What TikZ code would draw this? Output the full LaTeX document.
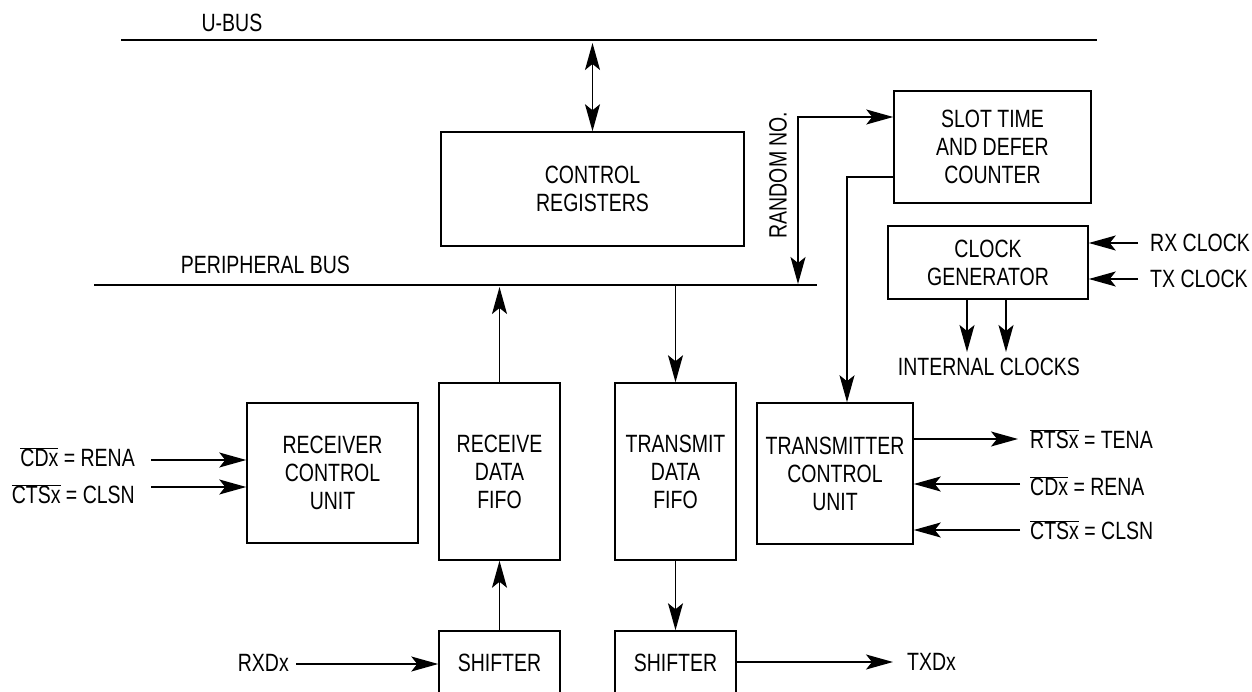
\documentclass[tikz,border=0pt]{standalone}
\usepackage{fontspec}
\setmainfont{Liberation Sans}[FakeStretch=0.78]
\usetikzlibrary{arrows.meta,calc}
\newcommand\ovl[1]{$\overline{\hbox{#1}}$}
\begin{document}
\begin{tikzpicture}[x=1pt,y=-1pt,
  every node/.style={font=\fontsize{25}{28}\selectfont},
  wire/.style={line width=1.5pt},
  arr/.style={wire,-{Stealth[length=27pt,width=15pt,inset=6pt]}},
  darr/.style={wire,{Stealth[length=27pt,width=15pt,inset=6pt]}-{Stealth[length=27pt,width=15pt,inset=6pt]}},
  blk/.style={draw,line width=1.5pt,align=center,inner sep=0pt},
  lbl/.style={inner sep=0pt}]
\clip (0,0) rectangle (1252,692);
\fill[white] (0,0) rectangle (1252,692);

% buses
\coordinate (ub1) at (121,40); \coordinate (ub2) at (1097,40);
\draw[wire] (ub1) -- (ub2);
\node[lbl] (ublbl) at (232,23) {U-BUS};
\coordinate (pb1) at (94,285); \coordinate (pb2) at (817,285);
\draw[wire] (pb1) -- (pb2);
\node[lbl] (pblbl) at (265.5,265) {PERIPHERAL BUS};

% blocks
\node[blk,minimum width=303,minimum height=114] (ctrl) at (592.5,189) {CONTROL\\REGISTERS};
\node[blk,minimum width=197,minimum height=112] (slot) at (992.5,147) {SLOT TIME\\AND DEFER\\COUNTER};
\node[blk,minimum width=200,minimum height=73] (clk) at (988,262.5) {CLOCK\\GENERATOR};
\node[blk,minimum width=171,minimum height=140] (rcu) at (332.5,473) {RECEIVER\\CONTROL\\UNIT};
\node[blk,minimum width=121,minimum height=177] (rfifo) at (499.5,471.5) {RECEIVE\\DATA\\FIFO};
\node[blk,minimum width=121,minimum height=177] (tfifo) at (675.5,471.5) {TRANSMIT\\DATA\\FIFO};
\node[blk,minimum width=156,minimum height=141] (tcu) at (835,473.5) {TRANSMITTER\\CONTROL\\UNIT};
\node[blk,minimum width=121,minimum height=64] (sh1) at (499.5,663) {SHIFTER};
\node[blk,minimum width=121,minimum height=64] (sh2) at (675.5,663) {SHIFTER};

% control registers <-> U-bus
\draw[darr] (ctrl.north) -- ($(ctrl.north |- ub1)+(0,3)$);

% FIFOs and bus
\draw[arr] (rfifo.north) -- ($(rfifo.north |- pb1)+(0,2)$);
\draw[arr] (tfifo.north |- pb1) -- (tfifo.north);
\draw[arr] (sh1.north) -- (rfifo.south);
\draw[arr] (tfifo.south) -- (sh2.north);

% random number
\coordinate (rnb) at (798,284);
\coordinate (rnt) at (798,117);
\draw[darr] (rnb) -- (rnt) -- (rnt -| slot.west);
\node[lbl,rotate=90] (rnlbl) at (778,175) {RANDOM NO.};

% slot counter -> transmitter control
\coordinate (sl1) at (847,177);
\draw[arr] (sl1 -| slot.west) -- (sl1) -- (sl1 |- tcu.north);

% clock generator
\node[lbl,anchor=west] (rxc) at (1150,243) {RX CLOCK};
\node[lbl,anchor=west] (txc) at (1150,279) {TX CLOCK};
\coordinate (rxs) at (1138,243); \coordinate (txs) at (1138,279);
\draw[arr] (rxs) -- (rxs -| clk.east);
\draw[arr] (txs) -- (txs -| clk.east);
\node[lbl] (icl) at (989,367) {INTERNAL CLOCKS};
\coordinate (ic1) at (967,352); \coordinate (ic2) at (1006,352);
\draw[arr] (ic1 |- clk.south) -- (ic1);
\draw[arr] (ic2 |- clk.south) -- (ic2);

% receiver control unit inputs
\node[lbl,anchor=east] (lcd) at (135,457) {\ovl{CDx} = RENA};
\node[lbl,anchor=east] (lcts) at (135,494) {\ovl{CTSx} = CLSN};
\coordinate (r1) at (151,460); \coordinate (r2) at (151,487);
\draw[arr] (r1) -- (r1 -| rcu.west);
\draw[arr] (r2) -- (r2 -| rcu.west);

% transmitter control unit
\coordinate (t1) at (1018,439); \coordinate (t2) at (1020,484); \coordinate (t3) at (1020,530);
\draw[arr] (t1 -| tcu.east) -- (t1);
\draw[arr] (t2) -- (t2 -| tcu.east);
\draw[arr] (t3) -- (t3 -| tcu.east);
\node[lbl,anchor=west] (rts) at (1030,439) {\ovl{RTSx} = TENA};
\node[lbl,anchor=west] (tcd) at (1030,486) {\ovl{CDx} = RENA};
\node[lbl,anchor=west] (tcts) at (1030,530) {\ovl{CTSx} = CLSN};

% serial data
\node[lbl,anchor=east] (rxd) at (289,663) {RXDx};
\coordinate (rx0) at (296,664);
\draw[arr] (rx0) -- (rx0 -| sh1.west);
\coordinate (tx0) at (893,662);
\draw[arr] (tx0 -| sh2.east) -- (tx0);
\node[lbl,anchor=west] (txd) at (907,662) {TXDx};
\end{tikzpicture}
\end{document}
